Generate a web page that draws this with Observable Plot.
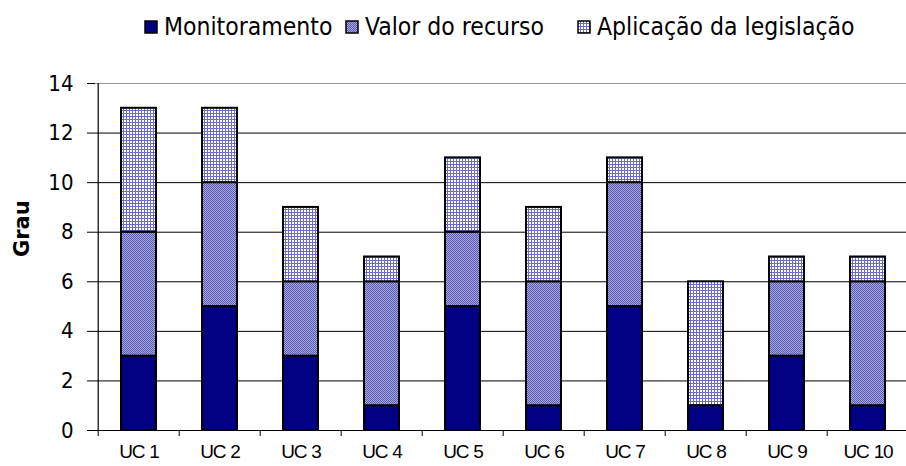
<!DOCTYPE html>
<html><head><meta charset="utf-8">
<script src="https://cdn.jsdelivr.net/npm/d3@7"></script>
<script src="https://cdn.jsdelivr.net/npm/@observablehq/plot@0.6"></script>
<style>
body{margin:0;background:#fff;width:906px;height:466px;overflow:hidden}
#legend{position:relative;height:56px;font-family:"DejaVu Sans Condensed","DejaVu Sans",sans-serif;font-size:24.5px;color:#000}
.item{position:absolute;top:13px;display:flex;align-items:center;white-space:nowrap;line-height:28px}
.item svg{margin-right:6px}
#chart svg{display:block}
#chart g[aria-label="x-axis tick label"] text{letter-spacing:-1.2px;word-spacing:1px}
</style></head><body>
<svg width="0" height="0" style="position:absolute">
  <defs>
    <pattern id="pValor" patternUnits="userSpaceOnUse" width="2" height="2">
      <rect width="2" height="2" fill="#a6a6de"></rect>
      <rect x="0" y="0" width="1" height="1" fill="#5c5cb4"></rect>
      <rect x="1" y="1" width="1" height="1" fill="#5c5cb4"></rect>
    </pattern>
    <pattern id="pAplic" patternUnits="userSpaceOnUse" width="3" height="3">
      <rect width="3" height="3" fill="#ffffff"></rect>
      <rect x="0" y="0" width="3" height="1" fill="#6c6cc8"></rect>
      <rect x="0" y="0" width="1" height="3" fill="#6c6cc8"></rect>
    </pattern>
  </defs>
</svg>
<div id="legend"></div>
<div id="chart"></div>
<script>
const categories = ["UC 1","UC 2","UC 3","UC 4","UC 5","UC 6","UC 7","UC 8","UC 9","UC 10"];
const series = ["Monitoramento","Valor do recurso","Aplicação da legislação"];
const monitoramento = [3,5,3,1,5,1,5,1,3,1];
const valorDoRecurso = [5,5,3,5,3,5,5,0,3,5];
const aplicacaoLegislacao = [5,3,3,1,3,3,1,5,1,1];
const yTicks = [0,2,4,6,8,10,12,14];
const seriesFills = ["#000080","url(#pValor)","url(#pAplic)"];

const valuesBySeries = [monitoramento, valorDoRecurso, aplicacaoLegislacao];
const data = [];
series.forEach((s, si) => categories.forEach((c, ci) => data.push({uc: c, serie: s, value: valuesBySeries[si][ci]})));

// legend
const legendLeft = [144, 345, 577];
const legend = document.getElementById("legend");
series.forEach((s, i) => {
  const it = document.createElement("div");
  it.className = "item";
  it.style.left = legendLeft[i] + "px";
  it.innerHTML = `<svg width="14" height="14"><rect x="1" y="1" width="12" height="12" fill="${seriesFills[i]}" stroke="#000" stroke-width="1.5"></rect></svg><span>${s}</span>`;
  legend.appendChild(it);
});

const step = 81.6;
const chart = Plot.plot({
  width: 906,
  height: 410,
  marginLeft: 95,
  marginRight: 0,
  marginTop: 27,
  marginBottom: 36,
  style: {background: "#fff", color: "#000"},
  x: {domain: categories, range: [95, 95 + step * categories.length], paddingInner: 0.57, paddingOuter: 0.285, label: null},
  y: {domain: [0, 14], label: null},
  color: {domain: series, range: seriesFills},
  marks: [
    Plot.ruleY(yTicks.filter(d => d > 0 && d < 14), {stroke: "#000", strokeWidth: 1}),
    Plot.ruleY([14], {stroke: "#9a9a9a", strokeWidth: 1.2}),
    Plot.barY(data, {x: "uc", y: "value", fill: "serie", stroke: "#000", strokeWidth: 2, order: series}),
    Plot.ruleY([0], {stroke: "#000", strokeWidth: 1.2}),
    Plot.ruleX([categories[0]], {x: d => d, dx: -step / 2, y1: 0, y2: 14, stroke: "#000", strokeWidth: 1.2}),
    Plot.axisY({ticks: yTicks, tickSize: 8, tickPadding: 14, fontSize: 22, fontFamily: "DejaVu Sans Condensed, DejaVu Sans, sans-serif", label: null}),
    Plot.axisX({tickSize: 6, tickFormat: () => "", dx: -step / 2}),
    Plot.axisX({tickSize: 0, tickPadding: 14, fontSize: 19, fontFamily: "Liberation Sans Narrow, Liberation Sans, Arial, sans-serif", label: null}),
    Plot.text(["Grau"], {frameAnchor: "left", dx: -73, rotate: -90, fontSize: 21, fontWeight: "bold", fontFamily: "DejaVu Sans, sans-serif"})
  ]
});
document.getElementById("chart").appendChild(chart);
</script>
</body></html>
